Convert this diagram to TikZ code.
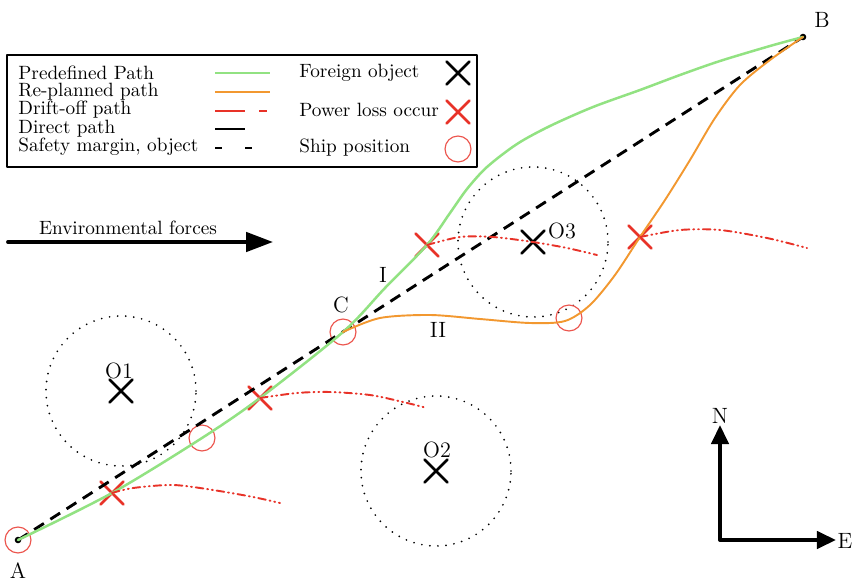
\documentclass[tikz,border=0pt]{standalone}
\usepackage{tikz}
\usetikzlibrary{arrows.meta}
\usetikzlibrary{shapes.misc}

\definecolor{pathgreen}{RGB}{146,226,130}
\definecolor{pathorange}{RGB}{242,152,48}
\definecolor{driftred}{RGB}{232,50,40}
\definecolor{shipred}{RGB}{236,86,78}

\begin{document}
\begin{tikzpicture}[x=0.52pt, y=0.52pt, line cap=round, line join=round, >=Triangle,
		predef/.style={pathgreen, line width=1.3pt},
		replan/.style={pathorange, line width=1pt},
		drift/.style={driftred, line width=1pt, dash pattern=on 4pt off 2pt on 0.5pt off 2pt on 0.5pt off 2pt},
		direct/.style={black, line width=1.5pt, line cap=butt, dash pattern=on 6pt off 4pt},
		margin/.style={black, line width=1pt, dash pattern=on 0pt off 4.2pt},
		ship/.style={circle, draw=shipred, line width=0.6pt, minimum size=13.5pt, inner sep=0pt},
		powerloss/.style={cross out, draw=driftred, line width=1.4pt, minimum size=10.5pt, inner sep=0pt},
		object/.style={cross out, draw=black, line width=1.4pt, minimum size=10.5pt, inner sep=0pt},
		label/.style={anchor=base, inner sep=0pt, font=\fontsize{11.5pt}{13pt}\selectfont},
		force/.style={line width=2pt, -{Triangle[length=14pt, width=10pt]}},
		compass/.style={line width=2pt, {Triangle[length=10pt, width=9pt]}-{Triangle[length=10pt, width=9pt]}}]
	\useasboundingbox (0,0) rectangle (853,580);
	% end points
	\coordinate (A) at (18,40);
	\coordinate (B) at (803,543);
	\fill (A) circle (1.7pt);
	\fill (B) circle (1.7pt);
	\node[label] (lblA) at (18,2) {A};
	\node[label] (lblB) at (822,553) {B};
	% foreign objects
	\node[object] (O1) at (121,189) {};
	\node[object] (O2) at (436,109) {};
	\node[object] (O3) at (533,338) {};
	\draw[margin] (O1.center) circle (39pt);
	\draw[margin] (O2.center) circle (39pt);
	\draw[margin] (O3.center) circle (39pt);
	\node[label] (lblO1) at (119,202) {O1};
	\node[label] (lblO2) at (437,123) {O2};
	\node[label] (lblO3) at (562,342) {O3};
	% ship positions
	\node[ship] (S1) at (A) {};
	\node[ship] (S2) at (202,142) {};
	\node[ship] (C) at (343,248) {};
	\node[ship] (S4) at (569,262) {};
	\node[label] (lblC) at (341,268) {C};
	% power loss
	\node[powerloss] (X1) at (112,87) {};
	\node[powerloss] (X2) at (260,182) {};
	\node[powerloss] (X3) at (427,335) {};
	\node[powerloss] (X4) at (640,343) {};
	% direct path
	\draw[direct] (A) -- (B);
	% predefined path
	\draw[predef] plot[smooth] coordinates {(A) (X1.center) (S2.center) (X2.center) (C.center) (385,292) (X3.center) (450,367) (467,391) (487,413) (517,436) (550,454) (593,473) (640,490) (680,505) (720,519) (770,534) (B)};
	% re-planned path
	\draw[replan] plot[smooth] coordinates {(C.center) (380,262) (430,265) (480,261) (530,257) (565,259) (590,275) (615,305) (X4.center) (665,380) (690,420) (715,462) (740,495) (770,520) (B)};
	\node[label] (lblI) at (383,298) {I};
	\node[label] (lblII) at (438,243) {II};
	% drift-off
	\draw[drift] plot[smooth] coordinates {(X1.center) (133,92) (173,95) (213,90) (253,83) (280,77)};
	\draw[drift] plot[smooth] coordinates {(X2.center) (297,187) (330,188) (370,185) (403,178) (427,172)};
	\draw[drift] plot[smooth] coordinates {(X3.center) (460,343) (493,343) (O3.center) (567,332) (597,325)};
	\draw[drift] plot[smooth] coordinates {(X4.center) (680,350) (720,350) (767,342) (807,332)};
	% environmental forces
	\coordinate (envS) at (8,338);
	\coordinate (envE) at (273,338);
	\draw[force] (envS) -- (envE);
	\node[anchor=base, inner sep=0pt] (envtxt) at (128,346) {Environmental forces};
	% compass
	\coordinate (north) at (720,155);
	\coordinate (origin) at (720,40);
	\coordinate (east) at (836,40);
	\draw[compass] (north) -- (origin) -- (east);
	\node[label] (lblN) at (720,157) {N};
	\node[label] (lblE) at (845,32) {E};
	% legend
	\draw[line width=1.3pt] (7,413) rectangle (477,525);
	\node[anchor=base west, inner sep=0pt] (lgPre) at (18,501) {Predefined Path};
	\node[anchor=base west, inner sep=0pt] (lgRe) at (18,484) {Re-planned path};
	\node[anchor=base west, inner sep=0pt] (lgDrift) at (18,466) {Drift-off path};
	\node[anchor=base west, inner sep=0pt] (lgDir) at (18,447) {Direct path};
	\node[anchor=base west, inner sep=0pt] (lgSafe) at (18,429) {Safety margin, object};
	\draw[pathgreen, line width=1.5pt, line cap=butt] (215,507) -- (270,507);
	\draw[pathorange, line width=1.5pt, line cap=butt] (215,488) -- (270,488);
	\draw[driftred, line width=1.5pt, line cap=butt] (215,469) -- (245,469) (259,469) -- (267,469);
	\draw[black, line width=1.5pt, line cap=butt] (215,451) -- (245,451);
	\draw[black, line width=1.5pt, line cap=butt] (215,432) -- (222,432) (245,432) -- (252,432);
	\node[anchor=base west, inner sep=0pt] (lgObj) at (299,503) {Foreign object};
	\node[anchor=base west, inner sep=0pt] (lgLoss) at (299,464) {Power loss occur};
	\node[anchor=base west, inner sep=0pt] (lgShip) at (299,428) {Ship position};
	\node[object] (lgX) at (458,507) {};
	\node[powerloss] (lgRX) at (458,468) {};
	\node[ship] (lgS) at (458,431) {};
\end{tikzpicture}
\end{document}
